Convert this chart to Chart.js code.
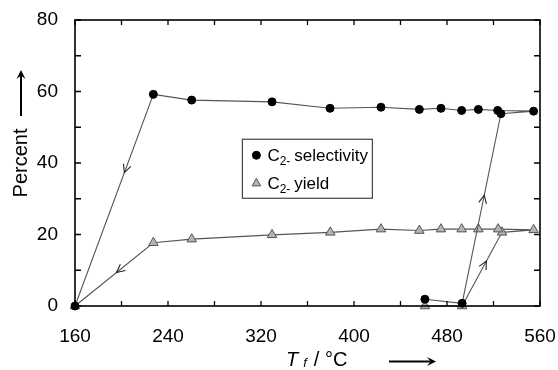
<!DOCTYPE html>
<html>
<head>
<meta charset="utf-8">
<script src="https://cdn.jsdelivr.net/npm/chart.js@4/dist/chart.umd.min.js"></script>
<style>
  html, body { margin: 0; padding: 0; background: #fff; }
  #wrap { width: 558px; height: 370px; }
</style>
</head>
<body>
<div id="wrap"><canvas id="c" width="558" height="370"></canvas></div>
<script>
// ---- data (in measurement sequence) ----
const selX   = [461, 493, 526.4, 554.5, 523.6, 507, 492.6, 474.8, 456.2, 423.2, 379.4, 329.5, 260.4, 227.4, 160];
const selY   = [1.9, 0.75, 53.8, 54.5, 54.7, 55.0, 54.7, 55.3, 55.0, 55.6, 55.3, 57.1, 57.6, 59.2, 0];
const yieldX = [461, 493, 527.3, 554.5, 524, 507, 492.6, 474.8, 456.2, 423.2, 379.6, 329.5, 260.4, 227.4, 160];
const yieldY = [0, 0, 20.6, 21.3, 21.5, 21.5, 21.5, 21.5, 21.1, 21.5, 20.6, 19.9, 18.7, 17.7, 0];
const xTickLabels = [160, 240, 320, 400, 480, 560];
const yTickLabels = [0, 20, 40, 60, 80];
const seriesNames = ['selectivity', 'yield'];
// arrows along segments: [series index, from point, to point, fraction]
const arrowSeries = [0, 1, 0, 1];
const arrowFrom   = [13, 13, 1, 1];
const arrowTo     = [14, 14, 2, 2];
const arrowT      = [0.37, 0.47, 0.57, 0.61];

const FONT = '"Liberation Sans", Arial, sans-serif';

function pts(xs, ys) { return xs.map((x, i) => ({ x: x, y: ys[i] })); }

const framePlugin = {
  id: 'frame',
  afterDraw(chart) {
    const ctx = chart.ctx, a = chart.chartArea;
    const xs = chart.scales.x, ys = chart.scales.y;
    ctx.save();
    // frame
    ctx.strokeStyle = '#000';
    ctx.lineWidth = 1.6;
    ctx.strokeRect(a.left, a.top, a.right - a.left, a.bottom - a.top);
    // inward ticks
    ctx.lineWidth = 1.3;
    ctx.beginPath();
    xs.ticks.forEach(t => {
      const px = xs.getPixelForValue(t.value);
      ctx.moveTo(px, a.bottom); ctx.lineTo(px, a.bottom - 5);
      ctx.moveTo(px, a.top); ctx.lineTo(px, a.top + 5);
    });
    ys.ticks.forEach(t => {
      const py = ys.getPixelForValue(t.value);
      ctx.moveTo(a.left, py); ctx.lineTo(a.left + 6, py);
      ctx.moveTo(a.right, py); ctx.lineTo(a.right - 6, py);
    });
    ctx.stroke();

    // arrows along data segments
    ctx.strokeStyle = '#222';
    ctx.lineWidth = 1.1;
    arrowSeries.forEach((s, i) => {
      const d = chart.data.datasets[s].data;
      const p0 = d[arrowFrom[i]], p1 = d[arrowTo[i]];
      const x0 = xs.getPixelForValue(p0.x), y0 = ys.getPixelForValue(p0.y);
      const x1 = xs.getPixelForValue(p1.x), y1 = ys.getPixelForValue(p1.y);
      const t = arrowT[i];
      const tx = x0 + (x1 - x0) * t, ty = y0 + (y1 - y0) * t;
      const ang = Math.atan2(y1 - y0, x1 - x0);
      const L = 9, spread = 0.45;
      ctx.beginPath();
      ctx.moveTo(tx - L * Math.cos(ang - spread), ty - L * Math.sin(ang - spread));
      ctx.lineTo(tx, ty);
      ctx.lineTo(tx - L * Math.cos(ang + spread), ty - L * Math.sin(ang + spread));
      ctx.stroke();
    });

    // legend box
    const lx = a.left + (a.right - a.left) * 0.36, ly = a.top + (a.bottom - a.top) * 0.417;
    const lw = 130, lh = 59;
    ctx.fillStyle = '#fff';
    ctx.fillRect(lx, ly, lw, lh);
    ctx.strokeStyle = '#444';
    ctx.lineWidth = 1.2;
    ctx.strokeRect(lx, ly, lw, lh);
    chart.data.datasets.forEach((ds, i) => {
      const cy = ly + 16 + i * 27.5;
      const cx = lx + 14;
      ctx.beginPath();
      if (ds.pointStyle === 'triangle') {
        const r = 4.5;
        ctx.moveTo(cx, cy - r);
        ctx.lineTo(cx + r * 0.95, cy + r * 0.7);
        ctx.lineTo(cx - r * 0.95, cy + r * 0.7);
        ctx.closePath();
      } else {
        ctx.arc(cx, cy, 4, 0, Math.PI * 2);
      }
      ctx.fillStyle = ds.pointBackgroundColor;
      ctx.fill();
      ctx.strokeStyle = ds.pointBorderColor;
      ctx.lineWidth = 1;
      ctx.stroke();
      // text: C2- name with subscript
      ctx.fillStyle = '#000';
      ctx.textBaseline = 'alphabetic';
      ctx.textAlign = 'left';
      let x = lx + 25;
      const base = cy + 6;
      ctx.font = '17px ' + FONT;
      ctx.fillText('C', x, base); x += ctx.measureText('C').width;
      ctx.font = '12px ' + FONT;
      ctx.fillText('2-', x, base + 4); x += ctx.measureText('2-').width + 4;
      ctx.font = '17px ' + FONT;
      ctx.fillText(seriesNames[i], x, base);
    });

    // x-axis title
    ctx.fillStyle = '#000';
    ctx.textBaseline = 'alphabetic';
    ctx.textAlign = 'left';
    let x = 286;
    const by = 366;
    ctx.font = 'italic 20px ' + FONT;
    ctx.fillText('T', x, by); x += ctx.measureText('T').width + 5;
    ctx.font = 'italic 13px ' + FONT;
    ctx.fillText('f', x, by + 1); x += ctx.measureText('f').width + 7;
    ctx.font = '20px ' + FONT;
    ctx.fillText('/ °C', x, by);
    // x arrow
    drawArrow(ctx, 389, 361.5, 436, 361.5);

    // y-axis title
    ctx.save();
    ctx.translate(27, 163);
    ctx.rotate(-Math.PI / 2);
    ctx.font = '20px ' + FONT;
    ctx.textAlign = 'center';
    ctx.fillText('Percent', 0, 0);
    ctx.restore();
    drawArrow(ctx, 21, 116, 21, 70);

    ctx.restore();
  }
};

function drawArrow(ctx, x0, y0, x1, y1) {
  const ang = Math.atan2(y1 - y0, x1 - x0);
  const hl = 9, hw = 4.5;
  ctx.strokeStyle = '#000';
  ctx.fillStyle = '#000';
  ctx.lineWidth = 2;
  ctx.beginPath();
  ctx.moveTo(x0, y0);
  ctx.lineTo(x1 - hl * 0.6 * Math.cos(ang), y1 - hl * 0.6 * Math.sin(ang));
  ctx.stroke();
  ctx.beginPath();
  ctx.moveTo(x1, y1);
  ctx.lineTo(x1 - hl * Math.cos(ang) + hw * Math.sin(ang), y1 - hl * Math.sin(ang) - hw * Math.cos(ang));
  ctx.lineTo(x1 - hl * 0.6 * Math.cos(ang), y1 - hl * 0.6 * Math.sin(ang));
  ctx.lineTo(x1 - hl * Math.cos(ang) - hw * Math.sin(ang), y1 - hl * Math.sin(ang) + hw * Math.cos(ang));
  ctx.closePath();
  ctx.fill();
}

new Chart(document.getElementById('c'), {
  type: 'scatter',
  data: {
    datasets: [
      {
        label: 'C2- selectivity',
        data: pts(selX, selY),
        showLine: true,
        borderColor: '#555',
        borderWidth: 1.1,
        pointStyle: 'circle',
        pointRadius: 4,
        pointBackgroundColor: '#000',
        pointBorderColor: '#000',
        pointBorderWidth: 1,
        clip: false,
        order: 1
      },
      {
        label: 'C2- yield',
        data: pts(yieldX, yieldY),
        showLine: true,
        borderColor: '#555',
        borderWidth: 1.1,
        pointStyle: 'triangle',
        pointRadius: 5.5,
        pointBackgroundColor: '#b4b4b4',
        pointBorderColor: '#555',
        pointBorderWidth: 1,
        clip: false,
        order: 2
      }
    ]
  },
  options: {
    responsive: false,
    animation: false,
    layout: { padding: { top: 20, right: 18, left: 0, bottom: 0 } },
    plugins: { legend: { display: false }, tooltip: { enabled: false } },
    scales: {
      x: {
        type: 'linear',
        min: xTickLabels[0],
        max: xTickLabels[xTickLabels.length - 1],
        grid: { display: false, drawTicks: false },
        border: { display: false },
        ticks: {
          stepSize: 40,
          autoSkip: false,
          maxRotation: 0,
          padding: 19,
          color: '#000',
          font: { family: FONT, size: 19 },
          callback: v => xTickLabels.includes(v) ? String(v) : ''
        },
        afterFit(s) { s.height = 64; s.paddingLeft = 0; s.paddingRight = 0; }
      },
      y: {
        min: yTickLabels[0],
        max: yTickLabels[yTickLabels.length - 1],
        grid: { display: false, drawTicks: false },
        border: { display: false },
        ticks: {
          stepSize: 10,
          autoSkip: false,
          padding: 17,
          color: '#000',
          font: { family: FONT, size: 19 },
          callback: v => yTickLabels.includes(v) ? String(v) : ''
        },
        afterFit(s) { s.width = 75; s.paddingTop = 0; s.paddingBottom = 0; }
      }
    }
  },
  plugins: [framePlugin]
});
</script>
</body>
</html>
